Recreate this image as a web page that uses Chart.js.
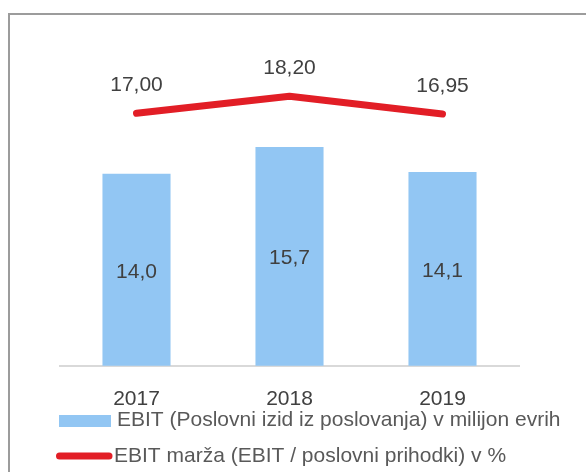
<!DOCTYPE html>
<html>
<head>
<meta charset="utf-8">
<script src="https://cdn.jsdelivr.net/npm/chart.js@4"></script>
<style>
  html, body { margin: 0; padding: 0; background: #ffffff; overflow: hidden; }
  #frame { position: absolute; left: 8px; top: 13px; width: 700px; height: 600px; border: 2px solid #9c9c9c; box-sizing: border-box; }
  #wrap { position: absolute; left: 0; top: 0; width: 586px; height: 472px; }
</style>
</head>
<body>
<div id="frame"></div>
<div id="wrap"><canvas id="c" width="586" height="472"></canvas></div>
<script>
const categories = ['2017', '2018', '2019'];
const ebitValues = [14.0, 15.7, 14.1];
const marginValues = [17.00, 18.20, 16.95];
const ebitLabel = 'EBIT (Poslovni izid iz poslovanja) v milijon evrih';
const marginLabel = 'EBIT marža (EBIT / poslovni prihodki) v %';

const BAR_COLOR = '#92c6f3';
const LINE_COLOR = '#e21e26';
const FONT = "'Liberation Sans', Arial, Helvetica, sans-serif";

const fmt = (v, d) => v.toFixed(d).replace('.', ',');

const labelsPlugin = {
  id: 'labelsPlugin',
  afterDatasetsDraw(chart) {
    const ctx = chart.ctx;
    ctx.save();
    ctx.font = '21px ' + FONT;
    ctx.fillStyle = '#404040';
    ctx.textAlign = 'center';
    ctx.textBaseline = 'middle';
    const bottom = chart.chartArea.bottom;
    const barMeta = chart.getDatasetMeta(0);
    barMeta.data.forEach((el, i) => {
      const mid = (el.y + Math.min(el.base, bottom)) / 2 + 2;
      ctx.fillText(fmt(ebitValues[i], 1), el.x, mid);
    });
    const lineMeta = chart.getDatasetMeta(1);
    lineMeta.data.forEach((el, i) => {
      ctx.fillText(fmt(marginValues[i], 2), el.x, el.y - 28);
    });
    ctx.restore();
  },
  afterDraw(chart) {
    const ctx = chart.ctx;
    ctx.save();
    ctx.font = '21px ' + FONT;
    ctx.textAlign = 'left';
    ctx.textBaseline = 'middle';
    // bar legend item
    ctx.fillStyle = BAR_COLOR;
    ctx.fillRect(59, 415, 52, 12);
    ctx.fillStyle = '#595959';
    ctx.fillText(chart.data.datasets[0].label, 117, 420);
    // line legend item
    ctx.strokeStyle = LINE_COLOR;
    ctx.lineWidth = 7;
    ctx.lineCap = 'round';
    ctx.beginPath();
    ctx.moveTo(59.5, 456);
    ctx.lineTo(109, 456);
    ctx.stroke();
    ctx.fillText(chart.data.datasets[1].label, 114, 456);
    ctx.restore();
  }
};

new Chart(document.getElementById('c'), {
  data: {
    labels: categories,
    datasets: [
      {
        type: 'bar',
        label: ebitLabel,
        data: ebitValues,
        backgroundColor: BAR_COLOR,
        borderWidth: 0,
        categoryPercentage: 1.0,
        barPercentage: 0.445,
        yAxisID: 'y',
        order: 2
      },
      {
        type: 'line',
        label: marginLabel,
        data: marginValues,
        borderColor: LINE_COLOR,
        borderWidth: 7,
        borderCapStyle: 'round',
        borderJoinStyle: 'round',
        pointRadius: 0,
        tension: 0,
        fill: false,
        yAxisID: 'y2',
        order: 1
      }
    ]
  },
  options: {
    responsive: false,
    animation: false,
    devicePixelRatio: 1,
    layout: { padding: { left: 60, right: 67, top: 40, bottom: 39 } },
    plugins: {
      legend: { display: false },
      tooltip: { enabled: false }
    },
    scales: {
      x: {
        type: 'category',
        offset: true,
        grid: { display: false, drawTicks: false },
        border: { display: true, color: '#d9d9d9', width: 2 },
        ticks: { color: '#404040', font: { family: FONT, size: 21 }, padding: 21, maxRotation: 0 }
      },
      y: {
        display: false,
        min: 1.75,
        max: 22.52
      },
      y2: {
        display: false,
        min: -0.78,
        max: 22.16
      }
    }
  },
  plugins: [labelsPlugin]
});
</script>
</body>
</html>
